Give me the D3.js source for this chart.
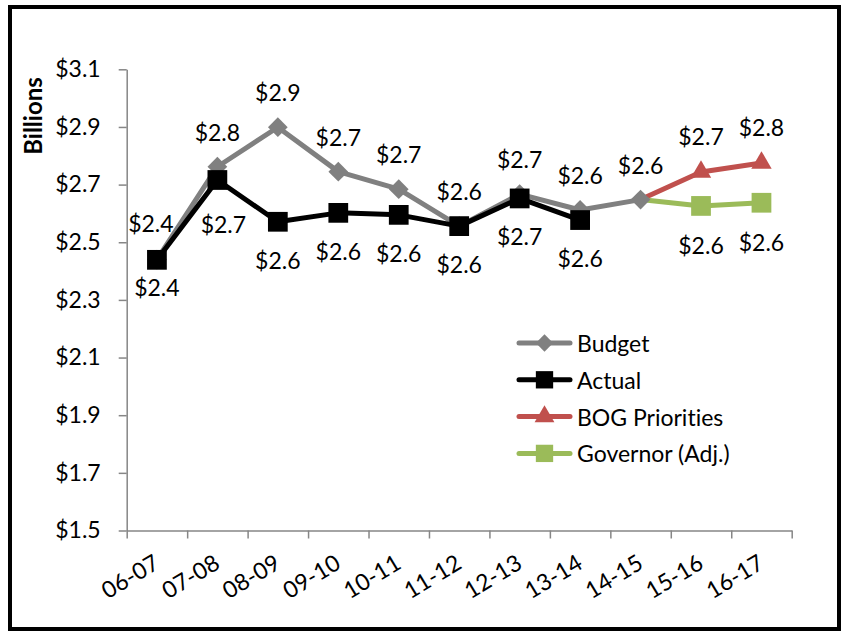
<!DOCTYPE html>
<html>
<head>
<meta charset="utf-8">
<script src="https://cdn.jsdelivr.net/npm/d3@7"></script>
<style>
  html, body { margin: 0; padding: 0; background: #fff; }
  svg { display: block; }
  text { font-family: Lato, "Open Sans", sans-serif; fill: #000; font-variant-ligatures: none; font-feature-settings: "liga" 0, "clig" 0; }
</style>
</head>
<body>
<svg id="chart" width="847" height="632"></svg>
<script>
const categories = ["06-07","07-08","08-09","09-10","10-11","11-12","12-13","13-14","14-15","15-16","16-17"];
const budget   = [2.44, 2.762, 2.899, 2.745, 2.684, 2.556, 2.667, 2.612, 2.648, null, null];
const actual   = [2.439, 2.716, 2.571, 2.602, 2.595, 2.556, 2.652, 2.577, null, null, null];
const bog      = [null, null, null, null, null, null, null, null, 2.648, 2.744, 2.775];
const governor = [null, null, null, null, null, null, null, null, 2.648, 2.626, 2.637];
const yTicks = [1.5, 1.7, 1.9, 2.1, 2.3, 2.5, 2.7, 2.9, 3.1];
const seriesNames = ["Budget", "Actual", "BOG Priorities", "Governor (Adj.)"];

const svg = d3.select("#chart");
const plot = { left: 126.7, right: 791.7, top: 69.3, bottom: 530.5 };
const FS = 23;

// outer border
svg.append("rect").attr("x", 10).attr("y", 7).attr("width", 829).attr("height", 622)
  .attr("fill", "#fff").attr("stroke", "#000").attr("stroke-width", 4);

const x = d3.scaleBand().domain(categories).range([plot.left, plot.right]);
const cx = c => x(c) + x.bandwidth() / 2;
const y = d3.scaleLinear().domain([1.5, 3.1]).range([plot.bottom, plot.top]);

const axisColor = "#868686";

// Y axis
const yAxis = svg.append("g").attr("transform", `translate(${plot.left},0)`)
  .call(d3.axisLeft(y).tickValues(yTicks).tickSize(8).tickSizeOuter(0).tickPadding(18)
    .tickFormat(d => "$" + d.toFixed(1)));
yAxis.select(".domain").attr("stroke", axisColor).attr("stroke-width", 1.5);
yAxis.selectAll(".tick line").attr("stroke", axisColor).attr("stroke-width", 1.5);
yAxis.selectAll(".tick text").attr("font-size", FS).attr("font-family", "Lato").attr("fill", "#000");

// X axis (line and boundary ticks)
const xb = d3.scaleLinear().domain([0, categories.length]).range([plot.left, plot.right]);
const xAxis = svg.append("g").attr("transform", `translate(0,${plot.bottom})`)
  .call(d3.axisBottom(xb).tickValues(d3.range(0, categories.length + 1)).tickSize(8).tickSizeOuter(0).tickFormat(""));
xAxis.select(".domain").attr("stroke", axisColor).attr("stroke-width", 1.5);
xAxis.selectAll(".tick line").attr("stroke", axisColor).attr("stroke-width", 1.5);

// category labels (rotated)
svg.append("g").selectAll("text").data(categories).join("text")
  .attr("transform", d => `translate(${cx(d) + 4},${plot.bottom + 37}) rotate(-31)`)
  .attr("text-anchor", "end")
  .attr("font-size", FS)
  .text(d => d);

// Y title
svg.append("text").attr("transform", `translate(42,116) rotate(-90)`)
  .attr("text-anchor", "middle").attr("font-size", 24).attr("font-weight", "bold")
  .text("Billions");

const colors = { budget: "#808080", actual: "#000000", bog: "#C0504D", governor: "#9BBB59" };

function pts(arr) {
  return categories.map((c, i) => ({ c, v: arr[i], i })).filter(d => d.v != null);
}
const line = d3.line().x(d => cx(d.c)).y(d => y(d.v));

function drawLine(arr, color) {
  svg.append("path").datum(pts(arr)).attr("d", line)
    .attr("fill", "none").attr("stroke", color).attr("stroke-width", 5)
    .attr("stroke-linejoin", "round");
}
const sym = {
  diamond: d3.symbol().type(d3.symbolSquare).size(195),
  square: d3.symbol().type(d3.symbolSquare).size(390),
  triangle: d3.symbol().type(d3.symbolTriangle).size(180)
};
const rot = { diamond: 45, square: 0, triangle: 0 };
function drawMarkers(data, shape, color) {
  svg.append("g").selectAll("path").data(data).join("path")
    .attr("transform", d => `translate(${cx(d.c)},${y(d.v)}) rotate(${rot[shape]})`)
    .attr("d", sym[shape]).attr("fill", color);
}
function drawLabels(data, dy, nudge) {
  svg.append("g").selectAll("text").data(data).join("text")
    .attr("x", d => cx(d.c) + ((nudge[d.i] || [0, 0])[0]))
    .attr("y", d => y(d.v) + dy + ((nudge[d.i] || [0, 0])[1]))
    .attr("text-anchor", "middle").attr("dominant-baseline", "central")
    .attr("font-size", FS)
    .text(d => "$" + (Math.round(d.v * 10) / 10).toFixed(1));
}

// lines: projections underneath
drawLine(bog, colors.bog);
drawLine(governor, colors.governor);
drawMarkers(pts(bog).filter(d => d.i > 8), "triangle", colors.bog);
drawMarkers(pts(governor).filter(d => d.i > 8), "square", colors.governor);
drawLine(budget, colors.budget);
drawMarkers(pts(budget), "diamond", colors.budget);
drawLine(actual, colors.actual);
drawMarkers(pts(actual), "square", colors.actual);

// data labels
drawLabels(pts(budget), -35, { 0: [-6, -2] });
drawLabels(pts(actual), 38, { 0: [0, -11], 1: [6, 6] });
drawLabels(pts(bog).filter(d => d.i > 8), -36, {});
drawLabels(pts(governor).filter(d => d.i > 8), 39, {});

// legend
const legendItems = [
  { name: seriesNames[0], color: colors.budget, shape: "diamond" },
  { name: seriesNames[1], color: colors.actual, shape: "square" },
  { name: seriesNames[2], color: colors.bog, shape: "triangle" },
  { name: seriesNames[3], color: colors.governor, shape: "square" }
];
const lsym = {
  diamond: d3.symbol().type(d3.symbolSquare).size(150),
  square: d3.symbol().type(d3.symbolSquare).size(300),
  triangle: d3.symbol().type(d3.symbolTriangle).size(170)
};
const lg = svg.append("g");
legendItems.forEach((it, k) => {
  const ly = 343 + k * 36.8;
  lg.append("line").attr("x1", 519).attr("x2", 570).attr("y1", ly).attr("y2", ly)
    .attr("stroke", it.color).attr("stroke-width", 5).attr("stroke-linecap", "round");
  lg.append("path").attr("transform", `translate(544.5,${ly}) rotate(${rot[it.shape]})`)
    .attr("d", lsym[it.shape]).attr("fill", it.color);
  lg.append("text").attr("x", 577).attr("y", ly).attr("dominant-baseline", "central")
    .attr("font-size", FS).text(it.name);
});
</script>
</body>
</html>
